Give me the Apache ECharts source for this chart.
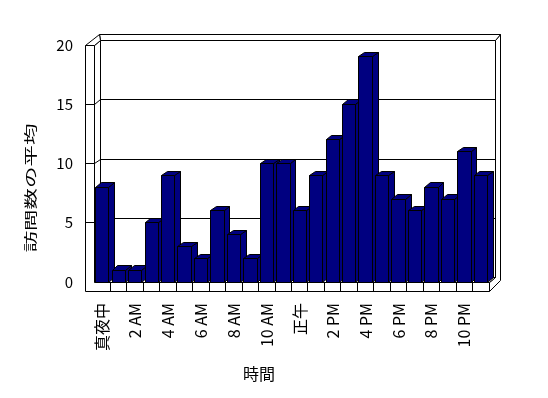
<!DOCTYPE html>
<html>
<head>
<meta charset="utf-8">
<script src="https://cdn.jsdelivr.net/npm/echarts@6/dist/echarts.min.js"></script>
<style>
html,body{margin:0;padding:0;background:#fff;}
#chart{width:548px;height:398px;}
</style>
</head>
<body>
<div id="chart"></div>
<script>
// 時間帯ごとの訪問数の平均
var hours = ['真夜中','1 AM','2 AM','3 AM','4 AM','5 AM','6 AM','7 AM','8 AM','9 AM','10 AM','11 AM',
             '正午','1 PM','2 PM','3 PM','4 PM','5 PM','6 PM','7 PM','8 PM','9 PM','10 PM','11 PM'];
var visits = [8,1,1,5,9,3,2,6,4,2,10,10,6,9,12,15,19,9,7,6,8,7,11,9];
var yTicks = [0,5,10,15,20];

var yMin = yTicks[0], yMax = yTicks[yTicks.length-1];
var FONT = '"Noto Sans CJK JP", sans-serif';

// 奥行き(手前の面 -> 奥の壁の内側), 壁の厚さ
var DEPTH = [6.2, -4.3];
var WALL = 9;
var BACK_L = [14.5, -11];
var BACK_R = [11.5, -11];

function px(v){ return Math.round(v - 0.5) + 0.5; }
function pt(x, y){ return [px(x), px(y)]; }

//壁・床・目盛線
function renderFrame(params, api){
    var bw = api.size([1,0])[0];
    var xl = api.coord([0,0])[0] - bw/2;
    var xr = api.coord([hours.length-1,0])[0] + bw/2;
    var y0 = api.coord([0,yMin])[1];
    var y1 = api.coord([0,yMax])[1];
    var xo = xl - WALL, yb = y0 + WALL;
    var dx = DEPTH[0], dy = DEPTH[1];
    var kids = [];
    function poly(pts){
        kids.push({type:'polygon', shape:{points:pts}, style:{fill:'#fff', stroke:'#000', lineWidth:1}});
    }
    function line(a, b){
        kids.push({type:'line', shape:{x1:a[0],y1:a[1],x2:b[0],y2:b[1]}, style:{stroke:'#000', lineWidth:1}});
    }
    // 右端の面
    poly([pt(xr+dx,y1+dy), pt(xr+BACK_R[0],y1+BACK_R[1]), pt(xr+BACK_R[0],yb+BACK_R[1]),
          pt(xr,yb), pt(xr,y0), pt(xr+dx,y0+dy)]);
    // 奥の壁の上面
    poly([pt(xl+dx,y1+dy), pt(xo+BACK_L[0],y1+BACK_L[1]), pt(xr+BACK_R[0],y1+BACK_R[1]), pt(xr+dx,y1+dy)]);
    // 奥の壁
    poly([pt(xl+dx,y1+dy), pt(xr+dx,y1+dy), pt(xr+dx,y0+dy), pt(xl+dx,y0+dy)]);
    // 左の壁(内側)
    poly([pt(xl,y1), pt(xl+dx,y1+dy), pt(xl+dx,y0+dy), pt(xl,y0)]);
    // 左の壁の上面
    poly([pt(xo,y1), pt(xl,y1), pt(xl+dx,y1+dy), pt(xo+BACK_L[0],y1+BACK_L[1])]);
    // 床
    poly([pt(xl,y0), pt(xr,y0), pt(xr+dx,y0+dy), pt(xl+dx,y0+dy)]);
    // 手前の面 (左の壁 + 床)
    poly([pt(xo,y1), pt(xl,y1), pt(xl,y0), pt(xr,y0), pt(xr,yb), pt(xo,yb)]);
    yTicks.forEach(function(v){
        if(v <= yMin || v >= yMax) return;
        var y = api.coord([0,v])[1];
        line(pt(xo,y), pt(xl,y));
        line(pt(xl,y), pt(xl+dx,y+dy));
        line(pt(xl+dx,y+dy), pt(xr+dx,y+dy));
    });
    for(var i=1; i<hours.length; i++){
        var x = xl + bw*i;
        line(pt(x,y0), pt(x,yb));
    }
    return {type:'group', children:kids};
}

//3D棒
function renderBar(params, api){
    var i = api.value(0), v = api.value(1);
    var top = api.coord([i, v]), base = api.coord([i, yMin]);
    var bw = api.size([1,0])[0];
    var x1 = top[0] - bw/2 + bw*0.1, x2 = top[0] - bw/2 + bw*0.91;
    var yt = top[1], y0 = base[1];
    var dx = 5.8, dy = -4.3;
    var st = {fill:'#000080', stroke:'#000', lineWidth:1};
    return {type:'group', children:[
        {type:'polygon', shape:{points:[pt(x2,y0), pt(x2,yt), pt(x2+dx,yt+dy), pt(x2+dx,y0+dy)]}, style:st},
        {type:'polygon', shape:{points:[pt(x1,yt), pt(x2,yt), pt(x2+dx,yt+dy), pt(x1+dx,yt+dy)]}, style:st},
        {type:'polygon', shape:{points:[pt(x1,y0), pt(x2,y0), pt(x2,yt), pt(x1,yt)]}, style:st}
    ]};
}

var myChart = echarts.init(document.getElementById('chart'));
var option = {
    animation: false,
    backgroundColor: '#fff',
    textStyle: {fontFamily: FONT, color: '#000'},
    grid: {left: 94, right: 59, top: 45, bottom: 116},
    xAxis: {
        type: 'category',
        data: hours,
        axisLine: {show: false},
        axisTick: {show: false},
        axisLabel: {interval: 1, rotate: 90, margin: 21, fontSize: 16, color: '#000', fontFamily: FONT}
    },
    yAxis: {
        type: 'value',
        min: yMin, max: yMax, interval: 5,
        axisLine: {show: false},
        axisTick: {show: false},
        splitLine: {show: false},
        axisLabel: {margin: 21, fontSize: 15, color: '#000', fontFamily: FONT}
    },
    graphic: [
        {type: 'text', x: 30, y: 188, rotation: Math.PI/2, scaleX: 1.65, scaleY: 1,
         style: {text: '訪問数の平均', fontSize: 13, fontFamily: FONT, fill: '#000', align: 'center', verticalAlign: 'middle'}},
        {type: 'text', x: 259, y: 374,
         style: {text: '時間', fontSize: 16, fontFamily: FONT, fill: '#000', align: 'center', verticalAlign: 'middle'}}
    ],
    series: [
        {type: 'custom', z: 1, silent: true, renderItem: renderFrame, data: [[0, 0]]},
        {type: 'custom', z: 2, renderItem: renderBar,
         data: visits.map(function(v, i){ return [i, v]; })}
    ]
};
myChart.setOption(option);
</script>
</body>
</html>
